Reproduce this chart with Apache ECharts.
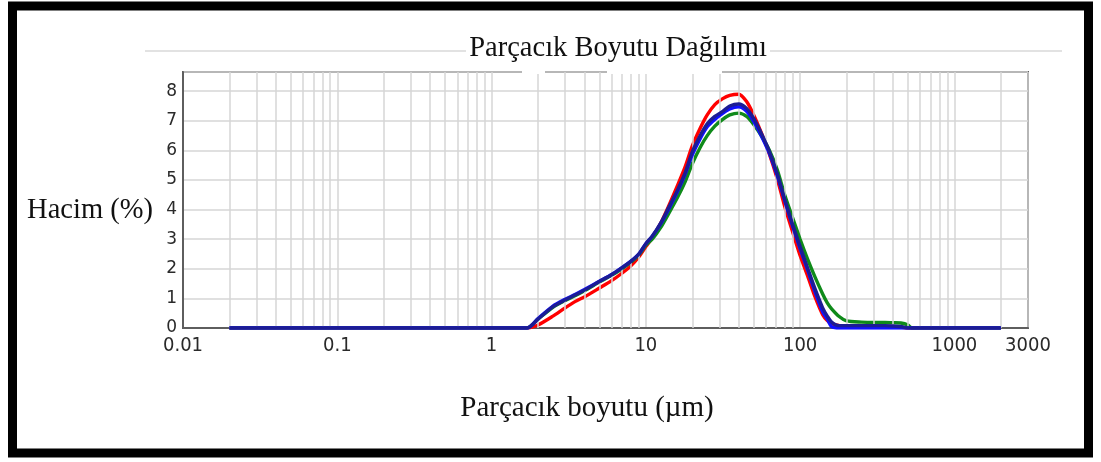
<!DOCTYPE html>
<html>
<head>
<meta charset="utf-8">
<script src="https://cdn.jsdelivr.net/npm/echarts@6/dist/echarts.min.js"></script>
<style>
html,body{margin:0;padding:0;background:#fff;}
#chart{width:1101px;height:462px;}
</style>
</head>
<body>
<div id="chart"></div>
<script>
// ---- data (particle size in µm, volume %) ----
const sizes = [0.02, 1, 1.7, 2, 2.5, 3, 3.5, 4, 5, 6, 7, 8, 9, 10, 11, 12.5, 14, 16, 18, 20, 22.5, 25, 28, 31.5, 35, 40, 45, 50, 56, 63, 71, 80, 90, 100, 112, 125, 140, 150, 160, 180, 200, 250, 300, 355, 400, 450, 500, 530, 560, 1000, 2000];
const redVals   = [0, 0, 0, 0.1, 0.4, 0.68, 0.9, 1.05, 1.35, 1.6, 1.85, 2.1, 2.4, 2.75, 3.05, 3.55, 4.1, 4.8, 5.45, 6.15, 6.75, 7.2, 7.55, 7.75, 7.86, 7.9, 7.65, 7.2, 6.6, 5.9, 5.05, 4.05, 3.2, 2.45, 1.75, 1.05, 0.45, 0.25, 0.15, 0.08, 0.06, 0.05, 0.05, 0.05, 0.05, 0.03, 0, 0, 0, 0, 0];
const greenVals = [0, 0, 0, 0.3, 0.7, 0.93, 1.1, 1.26, 1.55, 1.78, 2.0, 2.22, 2.47, 2.8, 3.0, 3.4, 3.85, 4.4, 4.95, 5.55, 6.1, 6.5, 6.82, 7.05, 7.2, 7.26, 7.15, 6.88, 6.5, 6.02, 5.35, 4.45, 3.68, 3.0, 2.32, 1.72, 1.15, 0.85, 0.65, 0.38, 0.24, 0.2, 0.19, 0.19, 0.18, 0.17, 0.1, 0, 0, 0, 0];
const blueVals  = [0, 0, 0, 0.32, 0.74, 0.97, 1.14, 1.3, 1.58, 1.81, 2.04, 2.26, 2.5, 2.85, 3.1, 3.53, 4.0, 4.6, 5.2, 5.85, 6.4, 6.8, 7.05, 7.25, 7.4, 7.47, 7.32, 6.98, 6.5, 5.92, 5.15, 4.25, 3.4, 2.68, 1.95, 1.22, 0.55, 0.3, 0.05, 0, 0, 0, 0, 0, 0, 0, 0, 0, 0, 0, 0];
const navyVals  = [0, 0, 0, 0.3, 0.72, 0.95, 1.12, 1.28, 1.57, 1.8, 2.03, 2.25, 2.5, 2.85, 3.1, 3.55, 4.05, 4.65, 5.25, 5.95, 6.5, 6.9, 7.15, 7.32, 7.5, 7.57, 7.42, 7.08, 6.58, 5.98, 5.22, 4.3, 3.45, 2.75, 2.02, 1.32, 0.68, 0.4, 0.2, 0.08, 0.08, 0.08, 0.08, 0.08, 0.07, 0.05, 0, 0, 0, 0, 0];

const xTickValues = [0.01, 0.1, 1, 10, 100, 1000, 3000];
const xTickLabels = ['0.01', '0.1', '1', '10', '100', '1000', '3000'];
const yTickLabels = ['0', '1', '2', '3', '4', '5', '6', '7', '8'];
const minorMultipliers = [2, 3, 4, 5, 6, 7, 8, 9];
const decades = [0.01, 0.1, 1, 10, 100];

const titleText = 'Parçacık Boyutu Dağılımı';
const xName = 'Parçacık boyutu (µm)';
const yName = 'Hacim (%)';

// vertical grid lines (log grid)
const vLines = [];
decades.forEach(d => minorMultipliers.forEach(m => vLines.push(+(d * m).toPrecision(3))));
vLines.push(2000);

function pairs(vals) { return sizes.map((s, i) => [s, vals[i]]); }

const lineW = 3.4;
function mkSeries(name, vals, color, z) {
  return {
    name, type: 'line', data: pairs(vals), showSymbol: false, smooth: 0.25,
    lineStyle: { color, width: lineW }, itemStyle: { color }, z, silent: true
  };
}

const chart = echarts.init(document.getElementById('chart'));
const serif = 'Liberation Serif';
const tickFont = '"Liberation Sans Narrow", "DejaVu Sans Condensed", "Liberation Sans", sans-serif';
chart.setOption({
  animation: false,
  backgroundColor: '#fff',
  grid: { left: 183, top: 72, right: 73, bottom: 134, show: true, borderColor: '#5e5e5e', borderWidth: 2, backgroundColor: '#fff' },
  xAxis: {
    type: 'log', logBase: 10, min: 0.01, max: 3000,
    axisLine: { show: true, lineStyle: { color: '#5e5e5e', width: 2 } },
    axisTick: { show: false },
    splitLine: { show: true, lineStyle: { color: '#d6d6d6', width: 1.5 } },
    axisLabel: {
      interval: 0, margin: 8, color: '#2a2a2a', fontFamily: tickFont, fontSize: 20,
      formatter: function (v) {
        for (let i = 0; i < xTickValues.length; i++) {
          if (Math.abs(Math.log10(v) - Math.log10(xTickValues[i])) < 0.01) return xTickLabels[i];
        }
        return '';
      }
    }
  },
  yAxis: {
    type: 'value', min: 0, max: 8.65, interval: 1,
    axisLine: { show: true, lineStyle: { color: '#5e5e5e', width: 2 } },
    axisTick: { show: false },
    splitLine: { show: true, lineStyle: { color: '#d6d6d6', width: 1.5 } },
    axisLabel: {
      showMaxLabel: false, margin: 6, color: '#2a2a2a', fontFamily: 'DejaVu Sans', fontSize: 17,
      formatter: function (v) { const i = Math.round(v); return Math.abs(v - i) < 1e-6 && yTickLabels[i] !== undefined ? yTickLabels[i] : ''; }
    }
  },
  series: [
    {
      type: 'line', data: [], silent: true, z: 1,
      markLine: {
        silent: true, symbol: ['none', 'none'], label: { show: false },
        lineStyle: { color: '#d6d6d6', width: 1.5, type: 'solid' },
        emphasis: { disabled: true },
        data: vLines.map(v => ({ xAxis: v }))
      }
    },
    mkSeries('s1', redVals, '#ff0000', 3),
    mkSeries('s2', greenVals, '#0f8a1a', 4),
    mkSeries('s3', blueVals, '#1010ff', 5),
    mkSeries('s4', navyVals, '#1c1c94', 6)
  ],
  graphic: [
    { type: 'rect', shape: { x: 12.5, y: 6, width: 1076, height: 447 }, style: { fill: 'none', stroke: '#000', lineWidth: 9 }, z: 100 },
    { type: 'line', shape: { x1: 145, y1: 51, x2: 1062, y2: 51 }, style: { stroke: '#d8d8d8', lineWidth: 1.5 }, z: 10 },
    { type: 'rect', shape: { x: 466, y: 36, width: 304, height: 28 }, style: { fill: '#fff' }, z: 11 },
    { type: 'text', x: 618, y: 49, style: { text: titleText, font: '28.5px "' + serif + '"', fill: '#111', textAlign: 'center', textVerticalAlign: 'middle' }, z: 12 },
    { type: 'rect', shape: { x: 607, y: 70, width: 115, height: 4 }, style: { fill: '#fff' }, z: 50 },
    { type: 'rect', shape: { x: 522, y: 70, width: 23, height: 4 }, style: { fill: '#fff' }, z: 50 },
    { type: 'text', x: 90, y: 211, style: { text: yName, font: '28.5px "' + serif + '"', fill: '#111', textAlign: 'center', textVerticalAlign: 'middle' }, z: 12 },
    { type: 'text', x: 587, y: 408, style: { text: xName, font: '29px "' + serif + '"', fill: '#111', textAlign: 'center', textVerticalAlign: 'middle' }, z: 12 }
  ]
});
</script>
</body>
</html>
